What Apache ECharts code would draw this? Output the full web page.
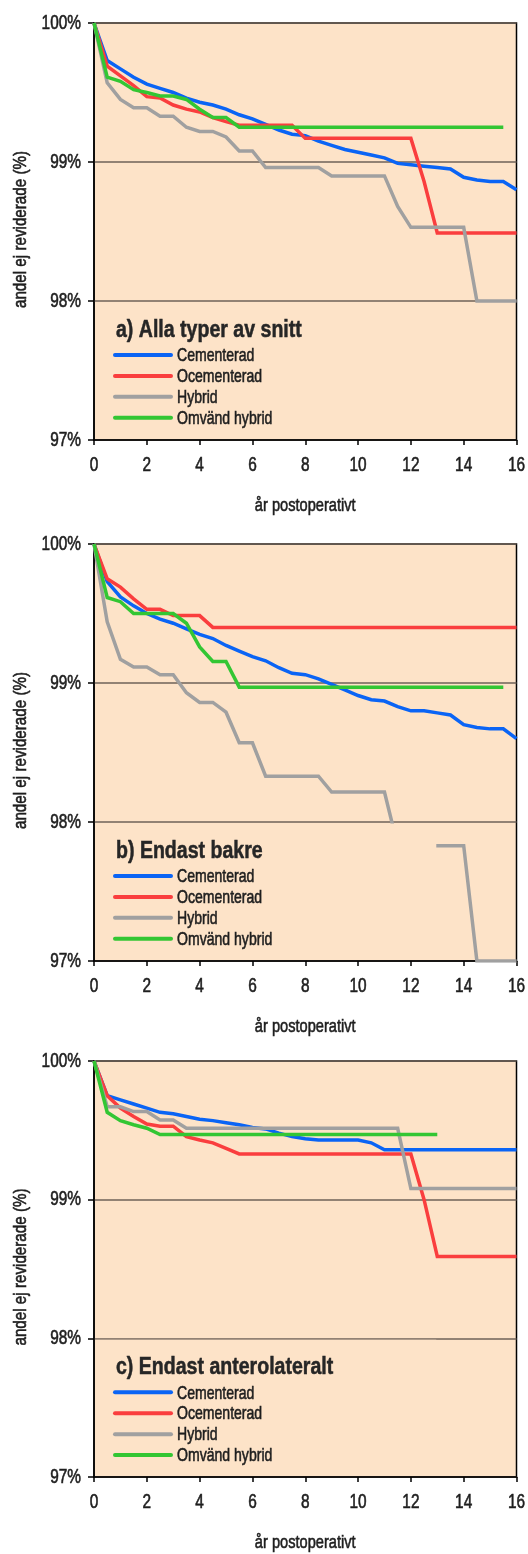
<!DOCTYPE html>
<html>
<head>
<meta charset="utf-8">
<title>Andel ej reviderade</title>
<script src="https://cdn.jsdelivr.net/npm/echarts@6/dist/echarts.min.js"></script>
<style>
  html, body { margin: 0; padding: 0; background: #ffffff; }
  #chart { width: 528px; height: 1554px; }
</style>
</head>
<body>
<div id="chart"></div>
<script>
// Years after surgery (half-year steps)
const years = [0, 0.5, 1, 1.5, 2, 2.5, 3, 3.5, 4, 4.5, 5, 5.5, 6, 6.5, 7, 7.5, 8,
  8.5, 9, 9.5, 10, 10.5, 11, 11.5, 12, 12.5, 13, 13.5, 14, 14.5, 15, 15.5, 16];

const seriesNames = ['Cementerad', 'Ocementerad', 'Hybrid', 'Omvänd hybrid'];
const seriesColors = ['#0a64f5', '#fa3e3e', '#a0a0a0', '#33c633'];
const panelTitles = ['a) Alla typer av snitt', 'b) Endast bakre', 'c) Endast anterolateralt'];
const xTicks = [0, 2, 4, 6, 8, 10, 12, 14, 16];
const yTicks = [97, 98, 99, 100];
const xAxisName = 'år postoperativt';
const yAxisName = 'andel ej reviderade (%)';

// a) Alla typer av snitt
const aCementerad = [100, 99.73, 99.67, 99.61, 99.56, 99.53, 99.50, 99.46, 99.43, 99.41, 99.38,
  99.34, 99.31, 99.27, 99.23, 99.20, 99.19, 99.15, 99.12, 99.09, 99.07, 99.05, 99.03,
  98.99, 98.98, 98.97, 98.96, 98.95, 98.89, 98.87, 98.86, 98.86, 98.80];
const aOcementerad = [100, 99.69, 99.62, 99.55, 99.47, 99.46, 99.41, 99.38, 99.36, 99.32, 99.29,
  99.265, 99.265, 99.265, 99.265, 99.265, 99.17, 99.17, 99.17, 99.17, 99.17, 99.17, 99.17,
  99.17, 99.17, 98.86, 98.49, 98.49, 98.49, 98.49, 98.49, 98.49, 98.49];
const aHybrid = [100, 99.57, 99.45, 99.39, 99.39, 99.33, 99.33, 99.25, 99.22, 99.22, 99.18,
  99.08, 99.08, 98.96, 98.96, 98.96, 98.96, 98.96, 98.90, 98.90, 98.90, 98.90, 98.90,
  98.68, 98.53, 98.53, 98.53, 98.53, 98.53, 98.00, 98.00, 98.00, 98.00];
const aOmvand = [100, 99.61, 99.58, 99.52, 99.50, 99.475, 99.475, 99.45, 99.38, 99.32, 99.32,
  99.25, 99.25, 99.25, 99.25, 99.25, 99.25, 99.25, 99.25, 99.25, 99.25, 99.25, 99.25,
  99.25, 99.25, 99.25, 99.25, 99.25, 99.25, 99.25, 99.25, 99.25, null];

// b) Endast bakre
const bCementerad = [100, 99.73, 99.62, 99.555, 99.50, 99.46, 99.43, 99.39, 99.35, 99.32, 99.27,
  99.23, 99.19, 99.16, 99.11, 99.07, 99.06, 99.03, 98.99, 98.95, 98.91, 98.88, 98.87,
  98.83, 98.80, 98.80, 98.785, 98.77, 98.70, 98.68, 98.67, 98.67, 98.60];
const bOcementerad = [100, 99.75, 99.69, 99.605, 99.53, 99.53, 99.485, 99.485, 99.485, 99.40, 99.40,
  99.40, 99.40, 99.40, 99.40, 99.40, 99.40, 99.40, 99.40, 99.40, 99.40, 99.40, 99.40,
  99.40, 99.40, 99.40, 99.40, 99.40, 99.40, 99.40, 99.40, 99.40, 99.40];
const bHybrid = [100, 99.44, 99.17, 99.115, 99.115, 99.06, 99.06, 98.93, 98.86, 98.86, 98.79,
  98.57, 98.57, 98.33, 98.33, 98.33, 98.33, 98.33, 98.215, 98.215, 98.215, 98.215, 98.215,
  97.83, 97.83, 97.83, 97.83, 97.83, 97.83, 97.00, 97.00, 97.00, 97.00];
const bOmvand = [100, 99.615, 99.585, 99.50, 99.50, 99.50, 99.50, 99.43, 99.26, 99.155, 99.155,
  98.97, 98.97, 98.97, 98.97, 98.97, 98.97, 98.97, 98.97, 98.97, 98.97, 98.97, 98.97,
  98.97, 98.97, 98.97, 98.97, 98.97, 98.97, 98.97, 98.97, 98.97, null];

// c) Endast anterolateralt
const cCementerad = [100, 99.75, 99.72, 99.69, 99.66, 99.63, 99.62, 99.60, 99.58, 99.57, 99.555,
  99.54, 99.52, 99.51, 99.48, 99.455, 99.44, 99.43, 99.43, 99.43, 99.43, 99.41, 99.36,
  99.36, 99.36, 99.36, 99.36, 99.36, 99.36, 99.36, 99.36, 99.36, 99.36];
const cOcementerad = [100, 99.75, 99.66, 99.60, 99.545, 99.53, 99.53, 99.455, 99.43, 99.41, 99.37,
  99.33, 99.33, 99.33, 99.33, 99.33, 99.33, 99.33, 99.33, 99.33, 99.33, 99.33, 99.33,
  99.33, 99.33, 99.00, 98.59, 98.59, 98.59, 98.59, 98.59, 98.59, 98.59];
const cHybrid = [100, 99.67, 99.67, 99.635, 99.635, 99.575, 99.575, 99.515, 99.515, 99.515, 99.515,
  99.515, 99.515, 99.515, 99.515, 99.515, 99.515, 99.515, 99.515, 99.515, 99.515, 99.515, 99.515,
  99.515, 99.08, 99.08, 99.08, 99.08, 99.08, 99.08, 99.08, 99.08, 99.08];
const cOmvand = [100, 99.63, 99.57, 99.54, 99.515, 99.47, 99.47, 99.47, 99.47, 99.47, 99.47,
  99.47, 99.47, 99.47, 99.47, 99.47, 99.47, 99.47, 99.47, 99.47, 99.47, 99.47, 99.47,
  99.47, 99.47, 99.47, 99.47, null, null, null, null, null, null];

const panelData = [
  [aCementerad, aOcementerad, aHybrid, aOmvand],
  [bCementerad, bOcementerad, bHybrid, bOmvand],
  [cCementerad, cOcementerad, cHybrid, cOmvand]
];

// Text is set in Liberation Sans, squeezed horizontally and lightly stroked
// for a condensed, medium-weight look.
const FONT = "'Liberation Sans', Arial, sans-serif";
const NARROW = 0.77;
const TEXT = '#1e1e1e';
const PLOT_BG = '#fde3c8';
const gridTops = [23, 544, 1061];
const gridHeights = [417, 417, 416];

const grids = [], xAxes = [], yAxes = [], series = [];

panelData.forEach((rows, p) => {
  grids.push({
    left: 94, right: 11.5, top: gridTops[p], height: gridHeights[p],
    show: true, backgroundColor: PLOT_BG, borderColor: '#000', borderWidth: 1.5
  });
  xAxes.push({
    type: 'value', gridIndex: p, min: 0, max: 16, interval: 2,
    axisLine: { show: true, onZero: false, lineStyle: { color: '#000', width: 1.5 } },
    axisTick: { show: true, inside: false, length: 5, lineStyle: { color: '#000', width: 1.5 } },
    axisLabel: { show: false },
    splitLine: { show: false }
  });
  yAxes.push({
    type: 'value', gridIndex: p, min: yTicks[0], max: yTicks[yTicks.length - 1], interval: 1,
    axisLine: { show: true, lineStyle: { color: '#000', width: 1.5 } },
    axisTick: { show: true, inside: false, length: 6, lineStyle: { color: '#000', width: 1.5 } },
    axisLabel: { show: false },
    splitLine: { show: true, lineStyle: { color: '#6e6259', width: 1.5 } }
  });
  rows.forEach((vals, s) => {
    const pts = [];
    years.forEach((t, i) => { if (vals[i] !== null) pts.push([t, vals[i]]); });
    series.push({
      type: 'line', name: seriesNames[s], xAxisIndex: p, yAxisIndex: p,
      data: pts, showSymbol: false, symbol: 'none', animation: false,
      color: seriesColors[s], z: 2,
      lineStyle: { color: seriesColors[s], width: 3.5, cap: 'butt', join: 'miter' }
    });
  });
});

const chart = echarts.init(document.getElementById('chart'), null, { renderer: 'canvas' });
chart.setOption({
  animation: false,
  backgroundColor: '#ffffff',
  grid: grids, xAxis: xAxes, yAxis: yAxes, series: series
});

function label(text, x, y, opts) {
  const color = opts.color || TEXT;
  return {
    type: 'text', x: x, y: y, z: 10, silent: true,
    rotation: opts.rotation || 0,
    scaleX: opts.scaleX || NARROW, scaleY: 1,
    style: {
      text: text, x: 0, y: 0,
      fill: color,
      stroke: color, lineWidth: opts.weight === undefined ? 0.6 : opts.weight,
      font: (opts.bold ? 'bold ' : '') + opts.size + 'px ' + FONT,
      align: opts.align || 'left', verticalAlign: 'middle'
    }
  };
}

const elements = [];
panelData.forEach((rows, p) => {
  const px = v => chart.convertToPixel({ xAxisIndex: p, yAxisIndex: p }, v);
  const origin = px([0, 97]);
  const corner = px([16, 100]);
  const axisY = origin[1];
  const line98 = px([0, 98])[1];

  // tick labels
  xTicks.forEach(t => {
    elements.push(label(String(t), px([t, 97])[0], axisY + 25.5, { size: 20, align: 'center' }));
  });
  yTicks.forEach(v => {
    elements.push(label(v + '%', origin[0] - 13, px([0, v])[1], { size: 20, align: 'right' }));
  });

  // axis titles
  elements.push(label(xAxisName, (origin[0] + corner[0]) / 2, axisY + 66, { size: 19, align: 'center' }));
  elements.push(label(yAxisName, 21, (origin[1] + corner[1]) / 2 - 2,
    { size: 19, align: 'center', rotation: Math.PI / 2, scaleX: 0.8 }));

  // key panel: plot-coloured box from the 98 % line to the x axis, out to year 13
  const boxEnd = px([13, 97]);
  elements.push({
    type: 'rect', z: 3, silent: true,
    shape: { x: origin[0] + 1, y: line98 + 1.5, width: boxEnd[0] - origin[0] - 2, height: axisY - line98 - 2.5 },
    style: { fill: PLOT_BG }
  });

  // panel heading
  elements.push(label(panelTitles[p], 116, line98 + 29.5,
    { size: 23, bold: true, scaleX: 0.85, color: '#262626', weight: 0.5 }));

  // legend: coloured key line + series name
  seriesNames.forEach((name, s) => {
    const y = line98 + 54 + s * 20.9;
    elements.push({
      type: 'line', z: 10, silent: true,
      shape: { x1: 115, y1: y, x2: 171, y2: y },
      style: { stroke: seriesColors[s], lineWidth: 4, lineCap: 'round' }
    });
    elements.push(label(name, 177, y + 1, { size: 19, scaleX: 0.74 }));
  });
});

chart.setOption({ graphic: { elements: elements } });
</script>
</body>
</html>
